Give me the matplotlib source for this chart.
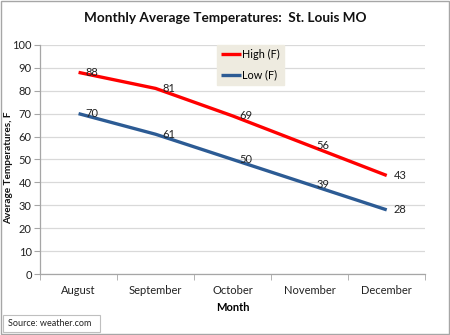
import matplotlib
matplotlib.use("Agg")
import matplotlib.pyplot as plt
from matplotlib.patches import Rectangle

months = ["August", "September", "October", "November", "December"]
high_f = [88, 81, 69, 56, 43]
low_f = [70, 61, 50, 39, 28]
y_ticks = [0, 10, 20, 30, 40, 50, 60, 70, 80, 90, 100]

plt.rcParams['font.family'] = ['Lato', 'DejaVu Sans']

fig = plt.figure(figsize=(4.5, 3.35), dpi=100)
fig.patch.set_facecolor("white")

# outer chart border
fig.add_artist(Rectangle((0.003, 0.004), 0.994, 0.992, transform=fig.transFigure,
                         fill=False, edgecolor="#a6a6a6", linewidth=1.0))

ax = fig.add_axes([0.089, 0.182, 0.856, 0.684])
x = list(range(len(months)))

ax.plot(x, high_f, color="#ff0000", linewidth=2.4, label="High (F)", solid_capstyle="butt")
ax.plot(x, low_f, color="#2c5b94", linewidth=2.4, label="Low (F)", solid_capstyle="butt")

for xi, v in zip(x, high_f):
    ax.annotate(str(v), (xi, v), xytext=(5, 0), textcoords="offset points",
                ha="left", va="center", fontsize=8, color="#222222")
for xi, v in zip(x, low_f):
    ax.annotate(str(v), (xi, v), xytext=(5, 0), textcoords="offset points",
                ha="left", va="center", fontsize=8, color="#222222")

ax.set_xlim(-0.5, 4.5)
ax.set_ylim(0, 100)
ax.set_yticks(y_ticks)
ax.set_xticks(x)
ax.set_xticklabels(months)
ax.set_xticks([i - 0.5 for i in range(len(months) + 1)], minor=True)
ax.tick_params(axis="x", which="major", length=0, pad=8, labelsize=8, labelcolor="#222222")
ax.tick_params(axis="x", which="minor", length=4, color="#a6a6a6", direction="out")
ax.tick_params(axis="y", length=4, color="#a6a6a6", labelsize=8, labelcolor="#222222", pad=2)

ax.grid(axis="y", color="#d9d9d9", linewidth=0.9)
ax.set_axisbelow(True)
for s in ["top", "right"]:
    ax.spines[s].set_visible(False)
for s in ["left", "bottom"]:
    ax.spines[s].set_color("#a6a6a6")
    ax.spines[s].set_linewidth(0.9)

fig.text(8.5 / 450, 1 - 168 / 335, "Average Temperatures, F", rotation=90,
         ha="center", va="center", fontsize=7.2, fontweight="bold", color="#111111")
ax.set_xlabel("Month", fontsize=8, fontweight="bold", labelpad=4)

fig.text(0.5, 0.945, "Monthly Average Temperatures:  St. Louis MO", ha="center", va="center",
         fontsize=9.8, fontweight="bold", color="#111111")

leg = ax.legend(loc="upper left", bbox_to_anchor=(0.459, 1.0), fontsize=7.8, frameon=True,
                fancybox=False, handlelength=1.8, handletextpad=0.15, borderpad=0.4,
                labelspacing=0.85, borderaxespad=0.0)
leg.get_frame().set_facecolor("#eeebe0")
leg.get_frame().set_edgecolor("#eeebe0")
leg.get_frame().set_alpha(1)

# source note box
fig.add_artist(Rectangle((0.006, 0.008), 0.216, 0.052, transform=fig.transFigure,
                         facecolor="white", edgecolor="#bfbfbf", linewidth=0.8))
fig.text(0.018, 0.034, "Source: weather.com", ha="left", va="center", fontsize=6.5, color="#222222")

fig.savefig("out.png", dpi=100)
